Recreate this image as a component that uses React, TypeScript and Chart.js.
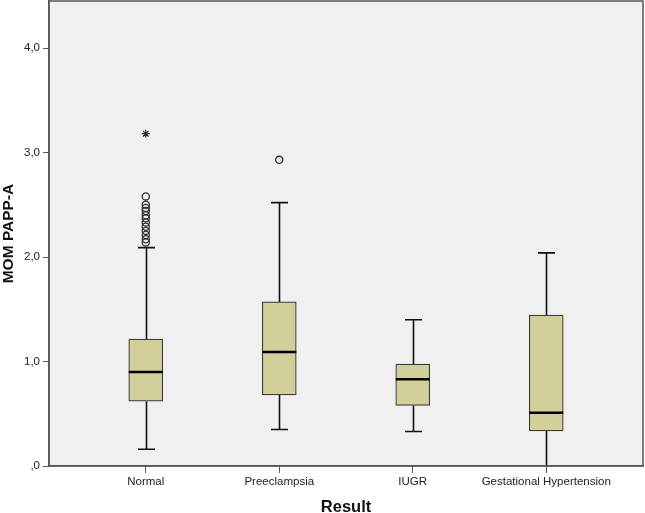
import React, { useEffect, useRef } from "react";
import { Chart, registerables } from "chart.js";

Chart.register(...registerables);

const categories = ["Normal", "Preeclampsia", "IUGR", "Gestational Hypertension"];
const whiskerLow = [0.16, 0.35, 0.33, 0.0];
const q1 = [0.62, 0.68, 0.58, 0.335];
const median = [0.9, 1.09, 0.83, 0.51];
const q3 = [1.215, 1.57, 0.975, 1.445];
const whiskerHigh = [2.09, 2.52, 1.4, 2.04];
const outlierCat = [0, 0, 0, 0, 0, 0, 0, 0, 0, 0, 0, 0, 1];
const outlierVal = [2.58, 2.5, 2.47, 2.44, 2.4, 2.37, 2.33, 2.29, 2.25, 2.21, 2.17, 2.14, 2.93];
const extremeCat = [0];
const extremeVal = [3.18];
const yTicks = [0, 1, 2, 3, 4];

const BOX_W = 34;
const CAP_W = 17;
const FONT = "'Liberation Sans', Arial, sans-serif";

const boxPlugin = {
  id: "boxParts",
  beforeDraw(chart: any) {
    const { ctx, chartArea: a } = chart;
    ctx.save();
    ctx.fillStyle = "#ffffff";
    ctx.fillRect(0, 0, chart.width, chart.height);
    ctx.fillStyle = "#f0f0f0";
    ctx.fillRect(a.left, a.top, a.right - a.left, a.bottom - a.top);
    ctx.restore();
  },
  beforeDatasetsDraw(chart: any) {
    const { ctx } = chart;
    const xs = chart.scales.x;
    const ys = chart.scales.y;
    ctx.save();
    ctx.strokeStyle = "#111";
    ctx.lineWidth = 1.6;
    categories.forEach((_, i) => {
      const x = Math.round(xs.getPixelForValue(i)) + 0.5;
      const yl = ys.getPixelForValue(whiskerLow[i]);
      const yq1 = ys.getPixelForValue(q1[i]);
      const yq3 = ys.getPixelForValue(q3[i]);
      const yh = ys.getPixelForValue(whiskerHigh[i]);
      ctx.beginPath();
      ctx.moveTo(x, yl);
      ctx.lineTo(x, yq1);
      ctx.moveTo(x, yq3);
      ctx.lineTo(x, yh);
      ctx.moveTo(x - CAP_W / 2, yh);
      ctx.lineTo(x + CAP_W / 2, yh);
      if (whiskerLow[i] > 0) {
        ctx.moveTo(x - CAP_W / 2, yl);
        ctx.lineTo(x + CAP_W / 2, yl);
      }
      ctx.stroke();
    });
    ctx.restore();
  },
  afterDatasetsDraw(chart: any) {
    const { ctx, chartArea: a } = chart;
    const xs = chart.scales.x;
    const ys = chart.scales.y;
    ctx.save();
    ctx.strokeStyle = "#000";
    ctx.lineWidth = 2.5;
    categories.forEach((_, i) => {
      const x = xs.getPixelForValue(i);
      const y = ys.getPixelForValue(median[i]);
      ctx.beginPath();
      ctx.moveTo(x - BOX_W / 2, y);
      ctx.lineTo(x + BOX_W / 2, y);
      ctx.stroke();
    });
    ctx.strokeStyle = "#555";
    ctx.lineWidth = 1.5;
    ctx.strokeRect(a.left, a.top, a.right - a.left, a.bottom - a.top);
    ctx.restore();
  },
};

export default function App() {
  const ref = useRef<HTMLCanvasElement>(null);
  useEffect(() => {
    document.body.style.margin = "0";
    const chart = new Chart(ref.current as HTMLCanvasElement, {
      type: "bar",
      data: {
        datasets: [
          {
            type: "bar",
            data: categories.map((_, i) => ({ x: i, y: [q1[i], q3[i]] })) as any,
            backgroundColor: "#d3cf98",
            borderColor: "#3a3a3a",
            borderWidth: 1.2,
            borderSkipped: false,
            barThickness: BOX_W,
            order: 1,
          } as any,
          {
            type: "scatter",
            data: outlierVal.map((v, i) => ({ x: outlierCat[i], y: v })),
            pointStyle: "circle",
            pointRadius: 3.6,
            backgroundColor: "rgba(0,0,0,0)",
            borderColor: "#333",
            borderWidth: 1.3,
            order: 0,
          } as any,
          {
            type: "scatter",
            data: extremeVal.map((v, i) => ({ x: extremeCat[i], y: v })),
            pointStyle: "star",
            pointRadius: 4,
            backgroundColor: "rgba(0,0,0,0)",
            borderColor: "#333",
            borderWidth: 1.2,
            order: 0,
          } as any,
        ],
      },
      options: {
        animation: false,
        responsive: false,
        maintainAspectRatio: false,
        layout: { autoPadding: false, padding: { top: 1, right: 2, left: 0, bottom: 0 } },
        plugins: { legend: { display: false }, tooltip: { enabled: false } },
        scales: {
          x: {
            type: "linear",
            offset: false,
            min: -0.725,
            max: 3.725,
            afterBuildTicks: (s: any) => {
              s.ticks = categories.map((_, i) => ({ value: i }));
            },
            afterFit: (s: any) => {
              s.height = 47;
              s.paddingLeft = 0;
              s.paddingRight = 0;
            },
            grid: {
              display: true,
              offset: false,
              drawOnChartArea: false,
              drawTicks: true,
              tickLength: 7,
              color: "#555",
            },
            border: { display: true, color: "#555", width: 1.5 },
            ticks: {
              autoSkip: false,
              maxRotation: 0,
              padding: 2,
              color: "#222",
              font: { family: FONT, size: 11.5 },
              callback: (v: any) => categories[v] ?? "",
            },
            title: {
              display: true,
              text: "Result",
              color: "#111",
              font: { family: FONT, size: 16.5, weight: "bold" },
              padding: { top: 0, bottom: -4 },
            },
          },
          y: {
            type: "linear",
            min: 0,
            max: 4.45,
            afterBuildTicks: (s: any) => {
              s.ticks = yTicks.map((v) => ({ value: v }));
            },
            afterFit: (s: any) => {
              s.width = 49;
              s.paddingTop = 0;
              s.paddingBottom = 0;
            },
            grid: {
              display: true,
              drawOnChartArea: false,
              drawTicks: true,
              tickLength: 6,
              color: "#555",
            },
            border: { display: true, color: "#555", width: 1.5 },
            ticks: {
              padding: 3,
              color: "#222",
              font: { family: FONT, size: 11.5 },
              callback: (v: any) => (v === 0 ? ",0" : Number(v).toFixed(1).replace(".", ",")),
            },
            title: {
              display: true,
              text: "MOM PAPP-A",
              color: "#111",
              font: { family: FONT, size: 15.5, weight: "bold" },
              padding: { top: -1, bottom: 0 },
            },
          },
        },
      } as any,
      plugins: [boxPlugin],
    });
    return () => chart.destroy();
  }, []);
  return (
    <div style={{ position: "fixed", left: 0, top: 0, width: 645, height: 513 }}>
      <canvas ref={ref} width={645} height={513} style={{ width: 645, height: 513 }} />
    </div>
  );
}
